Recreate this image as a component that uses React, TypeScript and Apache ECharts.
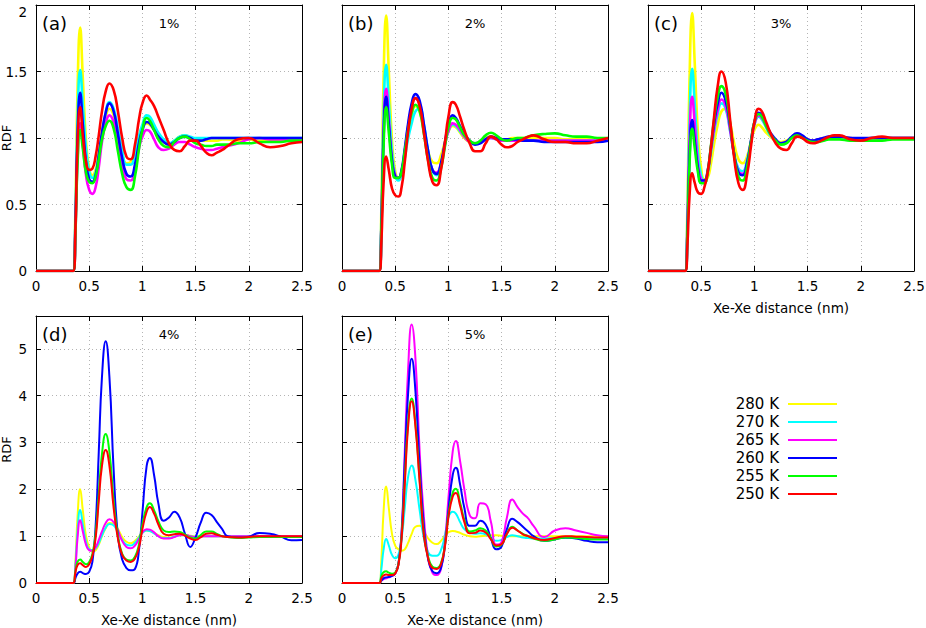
import React, { useEffect, useRef } from "react";
import * as echarts from "echarts";

// Xe-Xe distance sample points (nm)
const X = [
  0, 0.35, 0.37, 0.39, 0.415, 0.44, 0.47, 0.5, 0.53, 0.56,
  0.59, 0.62, 0.655, 0.69, 0.73, 0.77, 0.81, 0.85, 0.89, 0.93,
  0.97, 1.0, 1.04, 1.07, 1.11, 1.15, 1.2, 1.25, 1.3, 1.35,
  1.4, 1.45, 1.5, 1.55, 1.6, 1.65, 1.7, 1.75, 1.8, 1.9,
  2.0, 2.1, 2.2, 2.3, 2.4, 2.5,
];

const TEMPS = ["280 K", "270 K", "265 K", "260 K", "255 K", "250 K"];
const COLORS = ["#ffff00", "#00ffff", "#ff00ff", "#0000ff", "#00ff00", "#ff0000"];
const PANEL_TAGS = ["(a)", "(b)", "(c)", "(d)", "(e)"];
const CONCENTRATIONS = ["1%", "2%", "3%", "4%", "5%"];
const Y_MAX = [2, 2, 2, 5.7, 5.7];
const Y_STEP = [0.5, 0.5, 0.5, 1, 1];
const X_NAME = "Xe-Xe distance (nm)";
const Y_NAME = "RDF";

// ---- panel (a) 1% ----
const A_280 = [0, 0, 0.45, 1.35, 1.83, 1.45, 0.98, 0.77, 0.72, 0.76,
  0.88, 1.03, 1.16, 1.22, 1.17, 1.02, 0.88, 0.81, 0.82, 0.9,
  1.02, 1.08, 1.11, 1.1, 1.06, 1.02, 0.97, 0.95, 0.98, 1.01,
  1.02, 1.0, 0.99, 0.98, 0.98, 0.98, 0.98, 0.99, 0.99, 0.98,
  0.99, 0.98, 0.98, 0.99, 0.99, 0.99];
const A_270 = [0, 0, 0.38, 1.12, 1.51, 1.25, 0.92, 0.75, 0.7, 0.74,
  0.87, 1.03, 1.19, 1.27, 1.22, 1.07, 0.91, 0.8, 0.8, 0.88,
  1.02, 1.1, 1.17, 1.16, 1.1, 1.04, 0.99, 0.96, 0.98, 1.01,
  1.02, 1.01, 1.0, 1.0, 1.0, 1.0, 1.0, 1.0, 1.0, 1.0,
  1.0, 1.0, 1.0, 1.0, 1.0, 1.0];
const A_265 = [0, 0, 0.28, 0.83, 1.11, 0.95, 0.72, 0.61, 0.58, 0.63,
  0.78, 0.97, 1.11, 1.17, 1.12, 0.97, 0.8, 0.69, 0.68, 0.77,
  0.93, 1.01, 1.06, 1.05, 0.99, 0.93, 0.91, 0.92, 0.95, 0.97,
  0.97, 0.95, 0.93, 0.92, 0.91, 0.91, 0.92, 0.93, 0.94, 0.96,
  0.99, 1.0, 0.99, 0.99, 0.99, 0.99];
const A_260 = [0, 0, 0.34, 1.0, 1.34, 1.1, 0.82, 0.69, 0.67, 0.72,
  0.87, 1.04, 1.19, 1.26, 1.2, 1.03, 0.85, 0.73, 0.71, 0.8,
  0.97, 1.06, 1.12, 1.11, 1.06, 1.01, 0.97, 0.95, 0.97, 1.0,
  1.01, 1.0, 0.98, 0.98, 0.99, 1.0, 1.0, 1.0, 1.0, 1.0,
  1.0, 1.0, 1.0, 1.0, 1.0, 1.0];
const A_255 = [0, 0, 0.27, 0.8, 1.06, 0.92, 0.74, 0.67, 0.66, 0.71,
  0.84, 0.99, 1.09, 1.13, 1.07, 0.9, 0.73, 0.63, 0.61, 0.71,
  0.93, 1.06, 1.15, 1.13, 1.06, 0.99, 0.94, 0.93, 0.97, 1.0,
  1.01, 0.99, 0.96, 0.95, 0.94, 0.94, 0.95, 0.95, 0.95, 0.96,
  0.96, 0.97, 0.97, 0.97, 0.98, 0.98];
const A_250 = [0, 0, 0.3, 0.95, 1.23, 1.02, 0.82, 0.76, 0.77, 0.86,
  1.02, 1.2, 1.35, 1.41, 1.36, 1.2, 1.0, 0.86, 0.84, 0.95,
  1.15, 1.26, 1.32, 1.29, 1.24, 1.16, 1.06, 0.96, 0.91, 0.9,
  0.94, 0.98, 0.98, 0.94, 0.89, 0.87, 0.89, 0.91, 0.94, 0.99,
  1.0, 0.96, 0.93, 0.94, 0.96, 0.97];

// ---- panel (b) 2% ----
const B_280 = [0, 0, 0.48, 1.42, 1.92, 1.5, 0.98, 0.75, 0.7, 0.75,
  0.88, 1.03, 1.17, 1.24, 1.2, 1.05, 0.9, 0.82, 0.81, 0.87,
  0.98, 1.05, 1.09, 1.08, 1.04, 1.0, 0.97, 0.96, 0.97, 1.0,
  1.01, 1.0, 0.99, 0.99, 1.0, 1.0, 1.0, 1.0, 1.0, 1.0,
  1.0, 0.99, 0.99, 0.99, 0.99, 0.99];
const B_270 = [0, 0, 0.39, 1.15, 1.55, 1.27, 0.9, 0.72, 0.68, 0.72,
  0.85, 0.99, 1.11, 1.2, 1.22, 1.1, 0.9, 0.76, 0.72, 0.8,
  0.96, 1.05, 1.1, 1.09, 1.05, 1.01, 0.97, 0.96, 0.97, 0.99,
  1.0, 0.99, 0.98, 0.98, 0.98, 0.98, 0.98, 0.98, 0.98, 0.98,
  0.98, 0.98, 0.98, 0.98, 0.98, 0.98];
const B_265 = [0, 0, 0.34, 1.03, 1.37, 1.14, 0.84, 0.72, 0.7, 0.75,
  0.9, 1.08, 1.23, 1.3, 1.25, 1.08, 0.88, 0.76, 0.74, 0.81,
  0.96, 1.05, 1.11, 1.1, 1.06, 1.01, 0.97, 0.96, 0.97, 0.99,
  1.0, 0.99, 0.98, 0.98, 0.98, 0.98, 0.98, 0.98, 0.98, 0.98,
  0.98, 0.98, 0.98, 0.98, 0.98, 0.98];
const B_260 = [0, 0, 0.33, 0.98, 1.31, 1.1, 0.83, 0.71, 0.7, 0.76,
  0.92, 1.1, 1.26, 1.33, 1.28, 1.1, 0.9, 0.76, 0.73, 0.81,
  0.98, 1.1, 1.17, 1.15, 1.09, 1.03, 0.98, 0.95, 0.96, 0.99,
  1.01, 1.0, 0.99, 0.99, 0.99, 0.99, 0.98, 0.98, 0.98, 0.97,
  0.97, 0.97, 0.97, 0.97, 0.97, 0.98];
const B_255 = [0, 0, 0.31, 0.92, 1.23, 1.04, 0.8, 0.7, 0.7, 0.75,
  0.9, 1.05, 1.19, 1.25, 1.2, 1.03, 0.83, 0.7, 0.68, 0.77,
  0.95, 1.08, 1.15, 1.14, 1.08, 1.02, 0.98, 0.96, 0.98, 1.02,
  1.04, 1.02, 0.99, 0.98, 0.99, 1.0, 1.0, 1.01, 1.02, 1.03,
  1.035, 1.02, 1.01, 1.01, 1.0, 1.0];
const B_250 = [0, 0, 0.22, 0.65, 0.86, 0.76, 0.62, 0.57, 0.56, 0.63,
  0.82, 1.04, 1.22, 1.3, 1.24, 1.04, 0.82, 0.67, 0.645, 0.76,
  0.98, 1.16, 1.27, 1.25, 1.16, 1.06, 0.96, 0.9, 0.9, 0.96,
  1.01, 0.99, 0.95, 0.93, 0.94, 0.97, 0.99, 1.01, 1.02, 0.99,
  0.97, 0.97, 0.96, 0.96, 0.98, 1.0];

// ---- panel (c) 3% ----
const C_280 = [0, 0, 0.48, 1.43, 1.94, 1.55, 1.02, 0.77, 0.69, 0.7,
  0.8, 0.95, 1.1, 1.2, 1.22, 1.12, 0.96, 0.84, 0.81, 0.86,
  0.98, 1.06, 1.1, 1.08, 1.04, 1.01, 0.98, 0.97, 0.98, 1.0,
  1.02, 1.01, 0.99, 0.98, 0.99, 1.0, 1.0, 1.01, 1.01, 1.0,
  0.99, 1.0, 1.0, 1.0, 1.0, 1.0];
const C_270 = [0, 0, 0.38, 1.12, 1.52, 1.25, 0.88, 0.72, 0.68, 0.73,
  0.88, 1.04, 1.18, 1.26, 1.22, 1.06, 0.88, 0.77, 0.75, 0.83,
  0.98, 1.1, 1.16, 1.14, 1.08, 1.02, 0.98, 0.96, 0.97, 1.0,
  1.02, 1.01, 0.99, 0.98, 0.99, 1.0, 1.0, 1.01, 1.01, 1.0,
  0.99, 1.0, 1.0, 1.0, 1.0, 1.0];
const C_265 = [0, 0, 0.33, 0.97, 1.31, 1.1, 0.8, 0.69, 0.68, 0.74,
  0.9, 1.06, 1.21, 1.29, 1.24, 1.07, 0.87, 0.75, 0.73, 0.81,
  0.98, 1.1, 1.17, 1.15, 1.09, 1.03, 0.98, 0.96, 0.97, 1.0,
  1.02, 1.01, 0.99, 0.98, 0.99, 1.0, 1.0, 1.01, 1.01, 1.0,
  0.99, 1.0, 1.0, 1.0, 1.0, 1.0];
const C_260 = [0, 0, 0.28, 0.84, 1.135, 0.97, 0.77, 0.68, 0.68, 0.75,
  0.92, 1.1, 1.26, 1.34, 1.28, 1.1, 0.88, 0.74, 0.72, 0.81,
  0.99, 1.12, 1.19, 1.17, 1.1, 1.04, 0.99, 0.96, 0.97, 1.01,
  1.035, 1.02, 0.99, 0.98, 0.99, 1.0, 1.01, 1.01, 1.01, 1.0,
  1.0, 1.0, 1.0, 1.0, 1.0, 1.0];
const C_255 = [0, 0, 0.27, 0.8, 1.07, 0.92, 0.74, 0.66, 0.66, 0.74,
  0.93, 1.13, 1.31, 1.39, 1.33, 1.12, 0.87, 0.71, 0.68, 0.78,
  0.98, 1.12, 1.18, 1.16, 1.09, 1.03, 0.98, 0.95, 0.96, 1.0,
  1.02, 1.0, 0.98, 0.97, 0.97, 0.98, 0.99, 0.99, 0.99, 0.98,
  0.98, 0.98, 0.98, 0.99, 0.99, 0.99];
const C_250 = [0, 0, 0.19, 0.56, 0.735, 0.66, 0.59, 0.58, 0.63, 0.74,
  0.92, 1.15, 1.39, 1.5, 1.42, 1.15, 0.85, 0.66, 0.61, 0.72,
  0.95, 1.12, 1.22, 1.2, 1.12, 1.04, 0.96, 0.92, 0.91, 0.96,
  1.01, 1.0, 0.97, 0.96, 0.97, 0.99, 1.01, 1.02, 1.02, 0.99,
  0.98, 1.0, 1.01, 1.0, 1.0, 1.0];

// ---- panel (d) 4% ----
const D_280 = [0, 0, 0.45, 1.4, 2.0, 1.55, 1.0, 0.76, 0.67, 0.7,
  0.82, 1.0, 1.17, 1.28, 1.27, 1.15, 0.98, 0.88, 0.85, 0.9,
  1.0, 1.08, 1.12, 1.11, 1.07, 1.02, 0.98, 0.97, 0.99, 1.02,
  1.02, 1.01, 1.0, 1.0, 1.0, 1.0, 1.0, 1.0, 1.0, 1.0,
  1.0, 1.0, 1.0, 1.0, 1.0, 1.0];
const D_270 = [0, 0, 0.35, 1.1, 1.56, 1.25, 0.88, 0.72, 0.7, 0.74,
  0.85, 1.02, 1.18, 1.26, 1.23, 1.08, 0.92, 0.82, 0.8, 0.86,
  0.98, 1.07, 1.12, 1.11, 1.06, 1.0, 0.96, 0.96, 0.99, 1.02,
  1.02, 1.0, 0.99, 1.0, 1.0, 1.0, 1.0, 1.0, 1.0, 1.0,
  1.0, 1.0, 1.0, 1.0, 1.0, 1.0];
const D_265 = [0, 0, 0.3, 0.95, 1.34, 1.1, 0.82, 0.7, 0.69, 0.76,
  0.92, 1.1, 1.28, 1.36, 1.3, 1.12, 0.9, 0.77, 0.74, 0.8,
  0.95, 1.08, 1.15, 1.14, 1.08, 1.0, 0.95, 0.95, 0.98, 1.02,
  1.03, 1.0, 0.98, 0.99, 1.0, 1.0, 1.0, 1.0, 1.0, 1.0,
  1.0, 1.0, 1.0, 1.0, 1.0, 1.0];
const D_260 = [0, 0, 0.1, 0.2, 0.24, 0.21, 0.19, 0.24, 0.45, 1.2,
  2.8, 4.4, 5.16, 4.4, 2.4, 1.0, 0.5, 0.32, 0.27, 0.3,
  0.75, 1.5, 2.5, 2.67, 2.3, 1.7, 1.33, 1.4, 1.52, 1.4,
  1.05, 0.77, 0.98, 1.3, 1.5, 1.45, 1.3, 1.15, 1.0, 0.97,
  0.99, 1.07, 1.05, 0.99, 0.91, 0.92];
const D_255 = [0, 0, 0.25, 0.45, 0.5, 0.45, 0.4, 0.45, 0.62, 1.05,
  1.9, 2.75, 3.18, 2.8, 1.75, 1.0, 0.62, 0.5, 0.48, 0.56,
  0.85, 1.25, 1.62, 1.7, 1.55, 1.32, 1.12, 1.09, 1.1, 1.09,
  1.03, 0.97, 0.95, 1.03, 1.1, 1.1, 1.05, 1.0, 0.98, 0.96,
  0.97, 0.98, 0.98, 0.98, 0.98, 0.98];
const D_250 = [0, 0, 0.22, 0.38, 0.42, 0.38, 0.34, 0.4, 0.58, 0.95,
  1.75, 2.5, 2.84, 2.5, 1.6, 0.95, 0.6, 0.48, 0.45, 0.52,
  0.78, 1.15, 1.52, 1.62, 1.48, 1.25, 1.05, 1.02, 1.04, 1.05,
  1.01, 0.95, 0.92, 0.98, 1.05, 1.06, 1.03, 1.0, 0.98, 0.97,
  0.98, 1.0, 1.0, 1.0, 1.0, 1.0];

// ---- panel (e) 5% ----
const E_280 = [0, 0, 0.5, 1.5, 2.06, 1.6, 1.05, 0.8, 0.72, 0.69,
  0.72, 0.85, 1.05, 1.2, 1.22, 1.1, 0.95, 0.86, 0.83, 0.9,
  1.02, 1.08, 1.11, 1.1, 1.07, 1.03, 1.0, 0.99, 1.0, 1.01,
  1.02, 1.02, 1.01, 1.0, 1.0, 1.0, 1.0, 1.0, 1.0, 1.0,
  1.0, 1.0, 1.0, 1.0, 1.0, 1.0];
const E_270 = [0, 0, 0.3, 0.7, 0.94, 0.8, 0.6, 0.53, 0.6, 0.95,
  1.6, 2.25, 2.51, 2.2, 1.55, 0.95, 0.65, 0.58, 0.58, 0.7,
  1.05, 1.4, 1.52, 1.48, 1.3, 1.15, 1.08, 1.05, 1.06, 1.04,
  0.97, 0.9, 0.92, 0.98, 1.02, 1.0, 0.97, 0.96, 0.95, 0.95,
  0.96, 0.96, 0.96, 0.95, 0.95, 0.95];
const E_265 = [0, 0, 0.05, 0.08, 0.1, 0.12, 0.15, 0.2, 0.4, 1.1,
  2.8, 4.5, 5.52, 4.8, 2.8, 1.4, 0.55, 0.22, 0.17, 0.3,
  0.95, 1.8, 2.8, 3.03, 2.6, 2.0, 1.45, 1.38, 1.7, 1.68,
  1.3, 0.82, 0.88, 1.4, 1.78, 1.62, 1.48, 1.38, 1.22, 0.98,
  1.12, 1.17, 1.12, 1.07, 1.02, 1.0];
const E_260 = [0, 0, 0.05, 0.1, 0.12, 0.13, 0.15, 0.2, 0.4, 1.05,
  2.6, 4.0, 4.79, 4.1, 2.5, 1.2, 0.5, 0.25, 0.21, 0.32,
  0.85, 1.55, 2.3, 2.46, 2.1, 1.6, 1.22, 1.22, 1.33, 1.25,
  0.95, 0.72, 0.78, 1.15, 1.37, 1.3, 1.2, 1.1, 1.0, 0.9,
  0.93, 0.97, 0.95, 0.9, 0.87, 0.87];
const E_255 = [0, 0, 0.15, 0.23, 0.25, 0.22, 0.2, 0.22, 0.4, 1.0,
  2.2, 3.4, 3.94, 3.4, 2.2, 1.05, 0.55, 0.35, 0.32, 0.42,
  0.85, 1.45, 1.92, 2.01, 1.72, 1.35, 1.1, 1.12, 1.17, 1.12,
  0.95, 0.78, 0.82, 1.05, 1.2, 1.12, 1.05, 1.0, 0.95, 0.9,
  0.93, 0.97, 0.96, 0.94, 0.93, 0.93];
const E_250 = [0, 0, 0.1, 0.16, 0.18, 0.17, 0.17, 0.2, 0.38, 0.95,
  2.1, 3.3, 3.88, 3.35, 2.15, 1.0, 0.52, 0.32, 0.3, 0.4,
  0.82, 1.4, 1.84, 1.92, 1.65, 1.3, 1.06, 1.07, 1.12, 1.08,
  0.93, 0.8, 0.83, 1.05, 1.18, 1.12, 1.04, 1.0, 0.96, 0.92,
  0.96, 1.0, 0.99, 0.98, 0.97, 0.97];

const PANEL_SERIES = [
  [A_280, A_270, A_265, A_260, A_255, A_250],
  [B_280, B_270, B_265, B_260, B_255, B_250],
  [C_280, C_270, C_265, C_260, C_255, C_250],
  [D_280, D_270, D_265, D_260, D_255, D_250],
  [E_280, E_270, E_265, E_260, E_255, E_250],
];

// layout (pixels)
const GRID_POS = [
  { left: 36, top: 5, width: 266, height: 266 },
  { left: 342, top: 5, width: 266, height: 266 },
  { left: 648, top: 5, width: 266, height: 266 },
  { left: 36, top: 316, width: 266, height: 267 },
  { left: 342, top: 316, width: 266, height: 267 },
];
const SHOW_Y_LABELS = [true, false, false, true, false];
const SHOW_X_NAME = [false, false, true, true, true];

const FONT = "'DejaVu Sans', 'Liberation Sans', sans-serif";

export default function App() {
  const ref = useRef<HTMLDivElement>(null);

  useEffect(() => {
    if (!ref.current) return;
    const chart = echarts.init(ref.current, undefined, { renderer: "svg" });

    const grid: any[] = [];
    const xAxis: any[] = [];
    const yAxis: any[] = [];
    const series: any[] = [];
    const graphic: any[] = [];

    const axisLine = { show: true, onZero: false, lineStyle: { color: "#000", width: 1 } };
    const axisTick = { show: true, inside: true, length: 5, lineStyle: { color: "#000", width: 1 } };
    const splitLine = { show: true, lineStyle: { color: "#b4b4b4", width: 1, type: [1, 3] } };

    GRID_POS.forEach((g, p) => {
      grid.push({ ...g, containLabel: false, outerBoundsMode: "none" });
      xAxis.push({
        gridIndex: p, type: "value", position: "bottom",
        min: 0, max: 2.5, interval: 0.5,
        axisLine, axisTick, splitLine,
        axisLabel: { show: true, margin: 8, fontSize: 13.5, color: "#000", fontFamily: FONT },
        name: SHOW_X_NAME[p] ? X_NAME : "",
        nameLocation: "middle", nameGap: 30, nameMoveOverlap: false,
        nameTextStyle: { fontSize: 13.5, color: "#000", fontFamily: FONT },
      });
      xAxis.push({
        gridIndex: p, type: "value", position: "top",
        min: 0, max: 2.5, interval: 0.5,
        axisLine, axisTick, splitLine: { show: false },
        axisLabel: { show: false },
      });
      yAxis.push({
        gridIndex: p, type: "value", position: "left",
        min: 0, max: Y_MAX[p], interval: Y_STEP[p],
        axisLine, axisTick, splitLine,
        axisLabel: {
          show: SHOW_Y_LABELS[p], margin: 9, fontSize: 13.5,
          color: "#000", fontFamily: FONT,
          showMaxLabel: Y_MAX[p] % Y_STEP[p] === 0,
          verticalAlignMaxLabel: "top",
        },
        name: SHOW_Y_LABELS[p] ? Y_NAME : "",
        nameLocation: "middle", nameGap: 23, nameMoveOverlap: false,
        nameTextStyle: { fontSize: 13, color: "#000", fontFamily: FONT },
      });
      yAxis.push({
        gridIndex: p, type: "value", position: "right",
        min: 0, max: Y_MAX[p], interval: Y_STEP[p],
        axisLine, axisTick, splitLine: { show: false },
        axisLabel: { show: false },
      });

      PANEL_SERIES[p].forEach((vals, t) => {
        series.push({
          type: "line",
          name: TEMPS[t],
          xAxisIndex: 2 * p,
          yAxisIndex: 2 * p,
          data: X.map((x, i) => [x, vals[i]]),
          smooth: true,
          symbol: "none",
          showSymbol: false,
          clip: true,
          silent: true,
          color: COLORS[t],
          lineStyle: { color: COLORS[t], width: p < 3 ? 2.6 : 2 },
        });
      });

      graphic.push({
        type: "text", left: g.left + 6, top: g.top + 9,
        style: { text: PANEL_TAGS[p], font: `18px ${FONT}`, fill: "#000" },
      });
      graphic.push({
        type: "text", x: g.left + g.width / 2, y: g.top + 18,
        style: {
          text: CONCENTRATIONS[p], font: `13px ${FONT}`, fill: "#000",
          align: "center", verticalAlign: "middle",
        },
      });
    });

    chart.setOption({
      animation: false,
      backgroundColor: "#fff",
      grid, xAxis, yAxis, series, graphic,
      legend: {
        data: TEMPS,
        orient: "vertical",
        right: 89,
        top: 395,
        align: "right",
        icon: "rect",
        itemWidth: 49,
        itemHeight: 2,
        itemGap: 0,
        padding: 0,
        selectedMode: false,
        textStyle: { fontSize: 15, color: "#000", fontFamily: FONT, lineHeight: 18, padding: [0, 4, 0, 0] },
      },
    });

    return () => chart.dispose();
  }, []);

  return (
    <div
      ref={ref}
      style={{ position: "fixed", left: 0, top: 0, width: 926, height: 628, background: "#fff" }}
    />
  );
}
